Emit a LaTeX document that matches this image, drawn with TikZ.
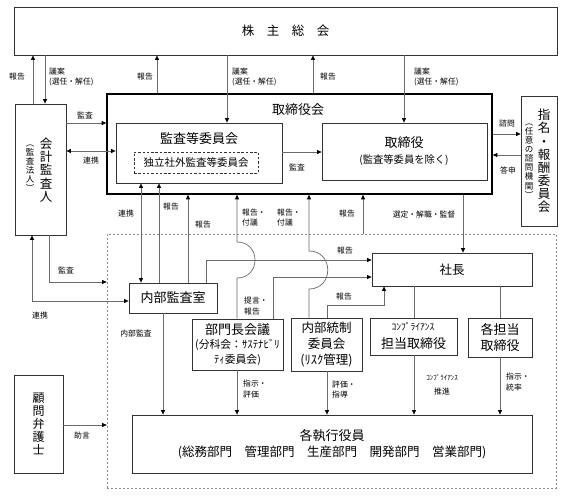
\documentclass[tikz,border=0pt]{standalone}
\usepackage{fontspec}
\setmainfont{Noto Sans CJK JP}
\usetikzlibrary{arrows.meta}
\definecolor{boxc}{HTML}{333333}
\definecolor{linec}{HTML}{6A6A6A}
\begin{document}
\begin{tikzpicture}[x=1pt,y=-1pt,
  box/.style={draw=boxc,line width=0.8pt,inner sep=0pt,align=center},
  txt/.style={inner sep=0pt,align=center,font=\fontsize{13}{15.5}\selectfont},
  vtxt/.style={inner sep=0pt,align=center,font=\fontsize{12.5}{13.2}\selectfont},
  svtxt/.style={inner sep=0pt,align=center,font=\fontsize{8.5}{9.1}\selectfont},
  lab/.style={inner sep=0pt,align=left,font=\fontsize{7.8}{10.5}\selectfont},
  conn/.style={draw=linec,line width=0.7pt},
  arr/.style={conn,-{Triangle[length=4.5pt,width=4pt,color=black]}},
  darr/.style={conn,{Triangle[length=4.5pt,width=4pt,color=black]}-{Triangle[length=4.5pt,width=4pt,color=black]}}]
\useasboundingbox (0,0) rectangle (581,500);
\fill[white] (0,0) rectangle (581,500);

% ---- boxes ----
\node[box,minimum width=543pt,minimum height=48pt,font=\fontsize{12.5}{15}\selectfont] (kab) at (285.5,31) {株　主　総　会};
\node[draw=black,line width=1.6pt,inner sep=0pt,minimum width=385pt,minimum height=100pt] (kai) at (299.5,144) {};
\node[txt] (kait) at (298,110) {取締役会};
\node[box,minimum width=166pt,minimum height=60pt] (kiin) at (199,153) {};
\node[txt] (kiint) at (199,139) {監査等委員会};
\node[draw=boxc,line width=0.8pt,dash pattern=on 2.5pt off 1.8pt,inner sep=0pt,minimum width=124pt,minimum height=21pt,font=\fontsize{10.5}{12}\selectfont] (doku) at (196,162.5) {独立社外監査等委員会};
\node[box,minimum width=165pt,minimum height=57pt] (tori) at (404.5,151.5) {};
\node[txt] (torit) at (404,143) {取締役};
\node[inner sep=0pt,font=\fontsize{10.3}{12}\selectfont] (torit2) at (404,160) {(監査等委員を除く)};
\node[box,minimum width=36pt,minimum height=130pt] (shimei) at (539,161) {};
\node[vtxt,font=\fontsize{12.5}{13.1}\selectfont] (shimeit) at (544,161) {指\\名\\・\\報\\酬\\委\\員\\会};
\node[svtxt] (shimeit2) at (529,161) {︵\\任\\意\\の\\諮\\問\\機\\関\\︶};
\node[box,minimum width=51pt,minimum height=131pt] (kaikei) at (40.5,169.5) {};
\node[vtxt] (kaikeit) at (46,170) {会\\計\\監\\査\\人};
\node[svtxt] (kaikeit2) at (30,168) {︵\\監\\査\\法\\人\\︶};

\node[draw=black!45,line width=0.7pt,dash pattern=on 2pt off 2pt,inner sep=0pt,minimum width=449pt,minimum height=254pt] (mgmt) at (331.5,361) {};

\node[box,minimum width=88pt,minimum height=30pt,font=\fontsize{13}{15}\selectfont] (naibu) at (173,298) {内部監査室};
\node[box,minimum width=91pt,minimum height=51pt] (bumon) at (237.5,344.5) {};
\node[txt] (bumont) at (237.5,330) {部門長会議};
\node[inner sep=0pt,align=center,font=\fontsize{10.8}{15}\selectfont] (bumont2) at (237.5,352.5) {(分科会：ｻｽﾃﾅﾋﾞﾘ\\ﾃｨ委員会)};
\node[box,minimum width=71pt,minimum height=53pt,font=\fontsize{12.5}{16}\selectfont] (ntou) at (326.5,344.5) {内部統制\\委員会\\(ﾘｽｸ管理)};
\node[box,minimum width=160pt,minimum height=33pt,font=\fontsize{12.5}{15}\selectfont] (shacho) at (452,269.5) {社長};
\node[box,minimum width=87pt,minimum height=37pt] (compl) at (413.5,336.5) {};
\node[inner sep=0pt,font=\fontsize{9.5}{11}\selectfont] (complt) at (413,327) {ｺﾝﾌﾟﾗｲｱﾝｽ};
\node[txt] (complt2) at (413.5,344) {担当取締役};
\node[box,minimum width=64pt,minimum height=39pt,font=\fontsize{13}{16}\selectfont] (kaku) at (500,337.5) {各担当\\取締役};
\node[box,minimum width=400pt,minimum height=58pt] (shikko) at (332,444) {};
\node[txt] (shikkot) at (332,436) {各執行役員};
\node[inner sep=0pt,font=\fontsize{12.5}{15}\selectfont] (shikkot2) at (332,452) {(総務部門　管理部門　生産部門　開発部門　営業部門)};
\node[box,minimum width=49pt,minimum height=98pt] (komon) at (38.5,424) {};
\node[vtxt,font=\fontsize{12}{13}\selectfont] (komont) at (38.5,424) {顧\\問\\弁\\護\\士};

% ---- connectors: top ----
\draw[arr] (kaikei.north -| 33,0) -- (kab.south -| 33,0);
\draw[arr] (kab.south -| 45,0) -- (kaikei.north -| 45,0);
\draw[arr] (kai.north -| 157,0) -- (kab.south -| 157,0);
\draw[arr] (kab.south -| 227,0) -- (kiin.north -| 227,0);
\draw[arr] (kai.north -| 313,0) -- (kab.south -| 313,0);
\draw[arr] (kab.south -| 404,0) -- (tori.north -| 404,0);
\node[lab] (l1) at (17,77) {報告};
\node[lab,anchor=west] (l2) at (49,77) {議案\\(選任・解任)};
\node[lab] (l3) at (145,77) {報告};
\node[lab,anchor=west] (l4) at (232,77) {議案\\(選任・解任)};
\node[lab] (l5) at (328,77) {報告};
\node[lab,anchor=west] (l6) at (414,77) {議案\\(選任・解任)};

% ---- middle ----
\draw[arr] (kaikei.east |- 0,123) -- (kai.west |- 0,123);
\draw[darr] (kaikei.east |- 0,151) -- (kiin.west |- 0,151);
\draw[arr] (kiin.east |- 0,152) -- (tori.west |- 0,152);
\draw[arr] (kai.east |- 0,134) -- (shimei.west |- 0,134);
\draw[arr] (shimei.west |- 0,155) -- (kai.east |- 0,155);
\node[lab] (l7) at (85,115) {監査};
\node[lab] (l8) at (91,161) {連携};
\node[lab] (l9) at (297,167) {監査};
\node[lab] (l10) at (507,124) {諮問};
\node[lab] (l11) at (508,170) {答申};

% ---- below board ----
\draw[darr] (naibu.north -| 141,0) -- (kiin.south -| 141,0);
\draw[arr] (naibu.north -| 159,0) -- (kiin.south -| 159,0);
\draw[arr] (naibu.north -| 188,0) -- (kai.south -| 188,0);
\draw[arr] (bumon.north -| 237,0) -- (237,278) .. controls (261,278) and (261,242) .. (237,242) -- (kai.south -| 237,0);
\draw[arr] (ntou.north -| 309,0) -- (309,289) .. controls (334,289) and (334,251) .. (309,251) -- (kai.south -| 309,0);
\draw[arr] (mgmt.north -| 363,0) -- (kai.south -| 363,0);
\draw[arr] (kai.south -| 463,0) -- (shacho.north -| 463,0);
\draw[arr] (naibu.north -| 206,0) |- (shacho.west |- 0,260);
\draw[arr] (bumon.north -| 273,0) |- (shacho.west |- 0,277);
\draw[arr] (ntou.north -| 327,0) |- (384,305) -- (shacho.south -| 384,0);
\draw[conn] (shacho.south -| 414,0) -- (compl.north -| 414,0);
\draw[conn] (shacho.south -| 500,0) -- (kaku.north -| 500,0);
\node[lab] (l12) at (126,214) {連携};
\node[lab] (l13) at (171,207) {報告};
\node[lab] (l14) at (203,225) {報告};
\node[lab,anchor=west] (l15) at (242,217.5) {報告・\\付議};
\node[lab,anchor=west] (l16) at (277,217.5) {報告・\\付議};
\node[lab] (l17) at (347,214) {報告};
\node[lab] (l18) at (424,215) {選定・解職・監督};
\node[lab] (l19) at (345,251) {報告};
\node[lab,anchor=west] (l20) at (244,306) {提言・\\報告};
\node[lab] (l21) at (344,297) {報告};

% ---- left ----
\draw[arr] (kaikei.south -| 49,0) |- (mgmt.west |- 0,282);
\draw[darr] (naibu.west |- 0,301) -| (kaikei.south -| 32,0);
\draw[arr] (komon.east |- 0,425) -- (mgmt.west |- 0,425);
\node[lab] (l22) at (66,270) {監査};
\node[lab] (l23) at (40,316) {連携};
\node[lab] (l24) at (82,436) {助言};

% ---- to executives ----
\draw[arr] (naibu.south -| 163,0) -- (shikko.north -| 163,0);
\draw[arr] (bumon.south -| 237,0) -- (shikko.north -| 237,0);
\draw[arr] (ntou.south -| 327,0) -- (shikko.north -| 327,0);
\draw[arr] (compl.south -| 414,0) -- (shikko.north -| 414,0);
\draw[arr] (kaku.south -| 500,0) -- (shikko.north -| 500,0);
\node[lab] (l25) at (136,334) {内部監査};
\node[lab,anchor=west] (l26) at (243,389) {指示・\\評価};
\node[lab,anchor=west] (l27) at (332,389.5) {評価・\\指導};
\node[lab,font=\fontsize{7}{9}\selectfont] (l28) at (442,378) {ｺﾝﾌﾟﾗｲｱﾝｽ};
\node[lab] (l29) at (442,392) {推進};
\node[lab,anchor=west] (l30) at (506,382) {指示・\\統率};
\end{tikzpicture}
\end{document}
